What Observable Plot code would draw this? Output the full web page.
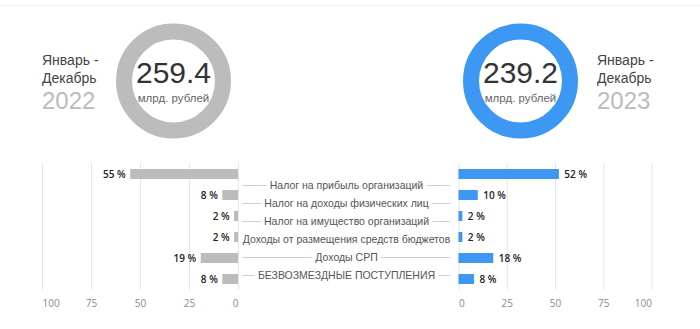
<!DOCTYPE html>
<html>
<head>
<meta charset="utf-8">
<script src="https://cdn.jsdelivr.net/npm/d3@7"></script>
<script src="https://cdn.jsdelivr.net/npm/@observablehq/plot@0.6"></script>
<style>
  html, body { margin: 0; padding: 0; background: #fff; }
  #root { position: relative; width: 700px; height: 329px; overflow: hidden; font-family: "Liberation Sans", Arial, sans-serif; }
  #root svg { position: absolute; left: 0; top: 0; background: transparent; }
  .topline { position: absolute; left: 0; top: 5px; width: 700px; height: 1px; background: #f0f0f0; }
  .period { position: absolute; color: #444; font-size: 14px; line-height: 17.5px; font-family: "Liberation Sans", Arial, sans-serif; }
  .period .yr { display: block; color: #bbb; font-size: 24px; line-height: 27px; }
</style>
</head>
<body>
<div id="root"><div class="topline"></div></div>
<script>
const years = ["2022", "2023"];
const totals = [259.4, 239.2];
const unitLabel = "млрд. рублей";
const periodLabel = ["Январь -", "Декабрь"];
const categories = [
  "Налог на прибыль организаций",
  "Налог на доходы физических лиц",
  "Налог на имущество организаций",
  "Доходы от размещения средств бюджетов",
  "Доходы СРП",
  "БЕЗВОЗМЕЗДНЫЕ ПОСТУПЛЕНИЯ"
];
const share2022 = [55, 8, 2, 2, 19, 8];
const share2023 = [52, 10, 2, 2, 18, 8];
const ticks = [0, 25, 50, 75, 100];
const colors = {"2022": "#bcbcbc", "2023": "#3c98f2"};

const root = document.getElementById("root");
const W = 700, H = 329;
const ARIAL = "'Liberation Sans', Arial, sans-serif";
const OPEN = "'Open Sans', sans-serif";

// --- Donuts ---
const donuts = years.map((y, i) => ({year: y, total: totals[i]}));
const donutPlot = Plot.plot({
  width: W, height: 161,
  marginTop: 0, marginBottom: 0, marginLeft: 0, marginRight: 0,
  style: "background: transparent;",
  x: {type: "point", domain: years, range: [173, 520], padding: 0, axis: null},
  marks: [
    Plot.dot(donuts, {x: "year", r: 49.5, stroke: d => colors[d.year], strokeWidth: 16, fill: "none"}),
    Plot.text(donuts, {x: "year", text: d => d.total.toFixed(1), lineAnchor: "bottom", dy: 1.5, fontSize: 30, fill: "#333", fontFamily: ARIAL}),
    Plot.text(donuts, {x: "year", text: () => unitLabel, lineAnchor: "bottom", dy: 20.5, fontSize: 11.5, fill: "#666", fontFamily: ARIAL})
  ]
});
root.appendChild(donutPlot);

// period captions
const capPos = [{left: 42, top: 52}, {left: 597, top: 52}];
years.forEach((y, i) => {
  const d = document.createElement("div");
  d.className = "period";
  d.style.left = capPos[i].left + "px";
  d.style.top = capPos[i].top + "px";
  d.innerHTML = periodLabel.join("<br>") + `<span class="yr">${y}</span>`;
  root.appendChild(d);
});

// --- Bars ---
function barPanel(values, year, side) {
  const rows = categories.map((c, i) => ({cat: c, value: values[i]}));
  const left = side === "left";
  const axisFont = {fontSize: 10, fill: "#8a8a8a", tickSize: 0, tickPadding: 9, fontFamily: OPEN, label: null};
  return Plot.plot({
    width: W, height: H,
    marginTop: 163, marginBottom: H - 290,
    marginLeft: left ? 42 : 458.5,
    marginRight: left ? W - 238 : W - 651.5,
    style: "background: transparent;",
    x: {domain: [0, 100], reverse: left, axis: null, label: null},
    y: {type: "band", domain: categories, paddingInner: 0.526, paddingOuter: 0.273, axis: null, label: null},
    marks: [
      Plot.gridX(ticks, {stroke: "#e6e6e6", strokeOpacity: 1}),
      Plot.axisX([25, 50, 75], {...axisFont}),
      Plot.axisX([100], {...axisFont, textAnchor: left ? "start" : "end"}),
      Plot.axisX([0], {...axisFont, textAnchor: left ? "end" : "start"}),
      Plot.barX(rows, {x: "value", y: "cat", fill: colors[year]}),
      Plot.text(rows, {x: "value", y: "cat", text: d => `${d.value} %`,
        textAnchor: left ? "end" : "start", dx: left ? -5 : 5,
        fontSize: 10, fontWeight: 600, fill: "#222", fontFamily: OPEN})
    ]
  });
}
root.appendChild(barPanel(share2022, "2022", "left"));
root.appendChild(barPanel(share2023, "2023", "right"));

// --- Middle labels ---
const mid = Plot.plot({
  width: W, height: H,
  marginTop: 0, marginBottom: 0, marginLeft: 242, marginRight: W - 450,
  style: "background: transparent;",
  x: {axis: null},
  y: {type: "point", domain: categories, range: [182.8, 277.3], padding: 0, axis: null},
  marks: [
    Plot.ruleY(categories, {y: d => d, stroke: "#cfcfcf", strokeWidth: 1}),
    Plot.text(categories, {y: d => d, text: d => d, fontSize: 10.5, fill: "#555",
      stroke: "white", strokeWidth: 8, fontFamily: ARIAL})
  ]
});
root.appendChild(mid);
</script>
</body>
</html>
